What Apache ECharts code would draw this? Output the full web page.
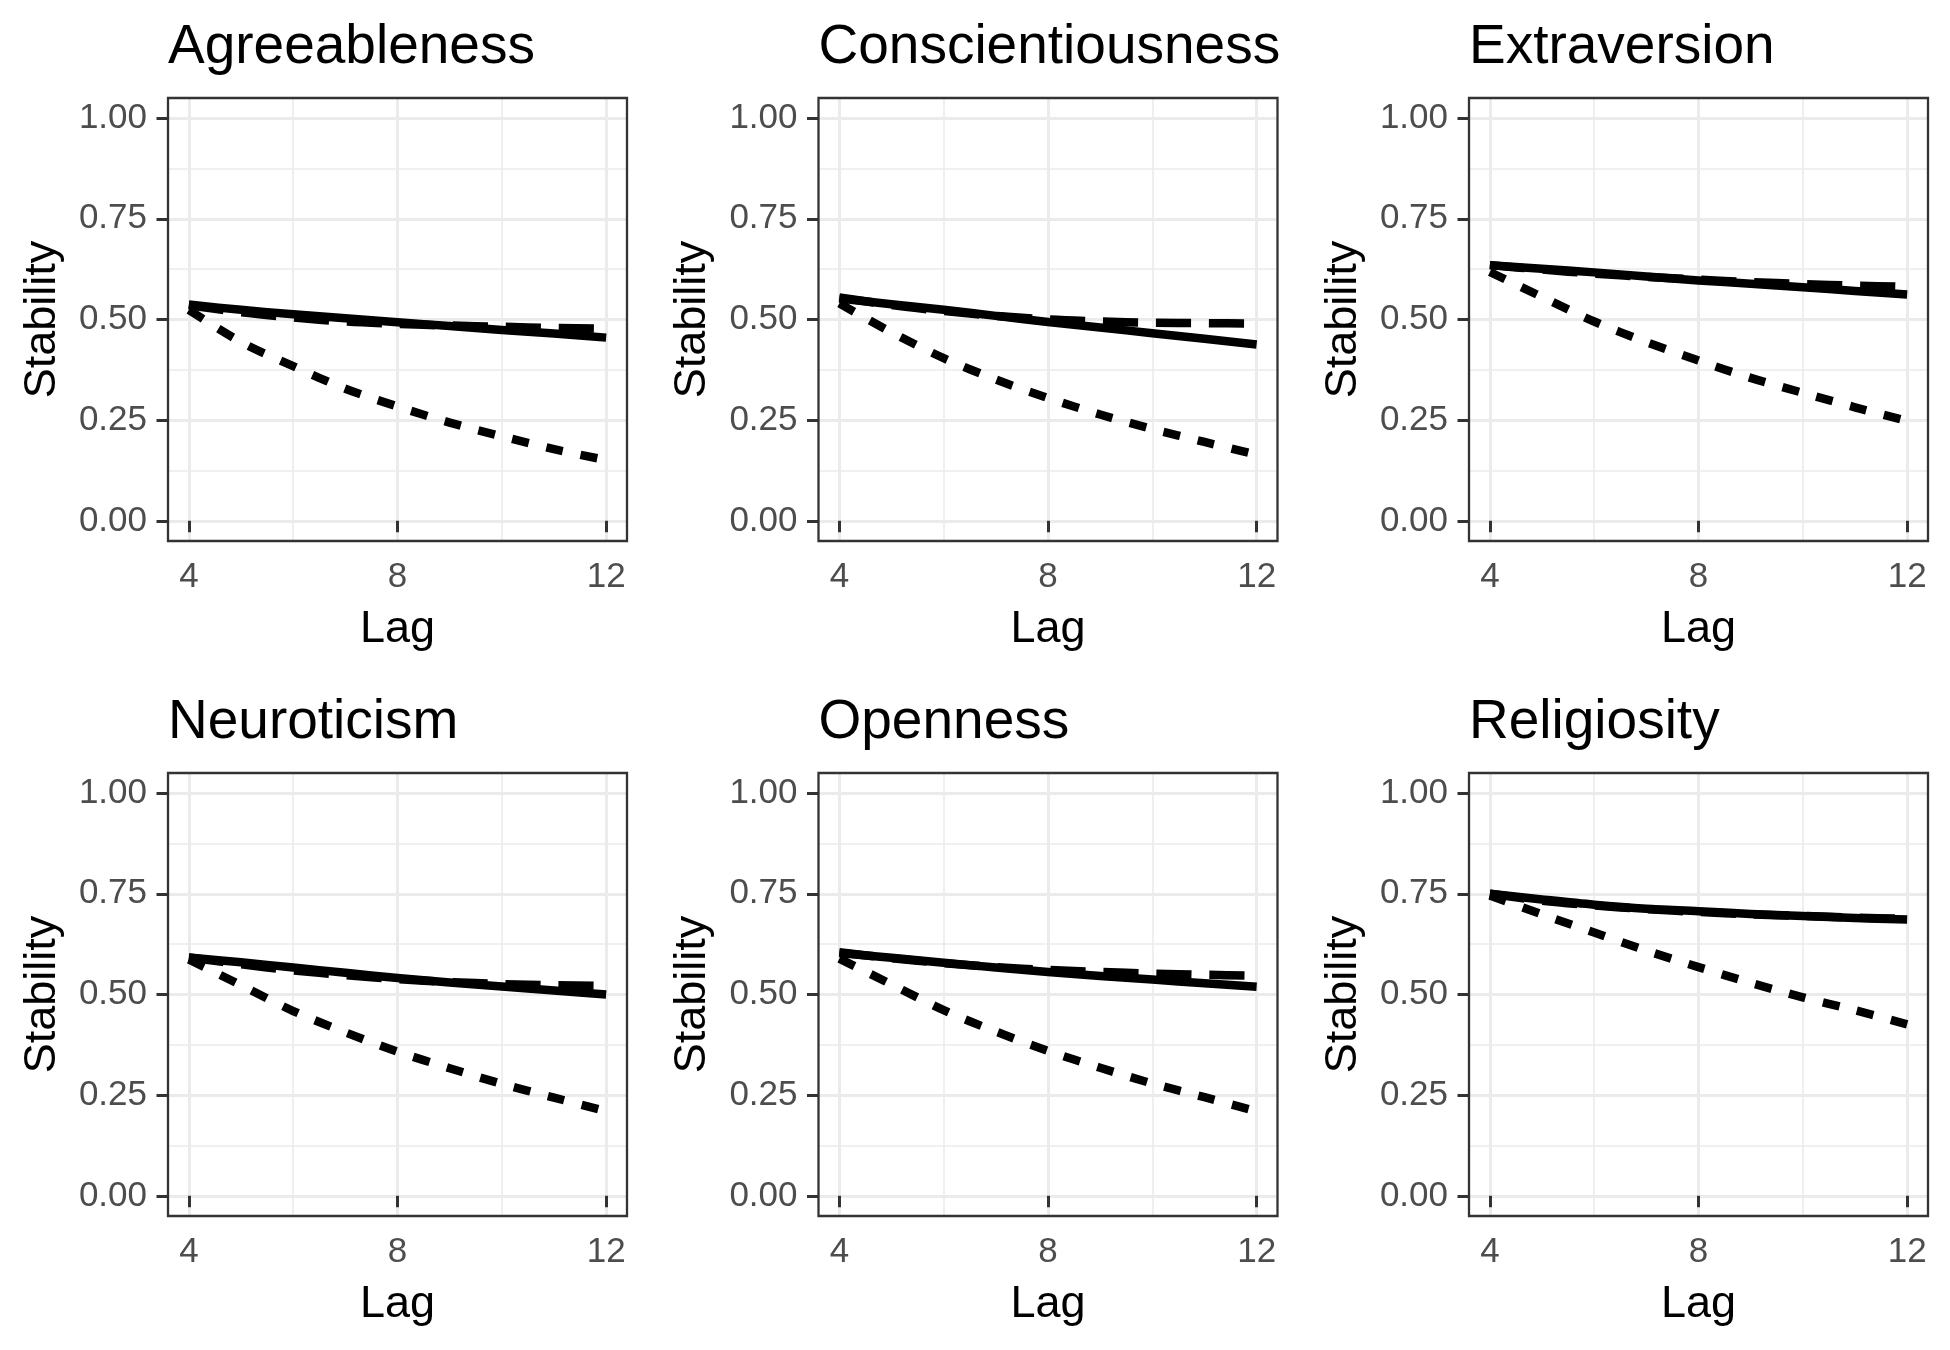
<!DOCTYPE html>
<html>
<head>
<meta charset="utf-8">
<script src="https://cdn.jsdelivr.net/npm/echarts@6/dist/echarts.min.js"></script>
<style>
html, body { margin: 0; padding: 0; background: #ffffff; }
#chart { width: 1950px; height: 1350px; }
</style>
</head>
<body>
<div id="chart"></div>
<script>
// ---------------- data ----------------
const lags = [4, 5, 6, 7, 8, 9, 10, 11, 12];
const traits = ['Agreeableness', 'Conscientiousness', 'Extraversion', 'Neuroticism', 'Openness', 'Religiosity'];

const agreeablenessSolid     = [0.537, 0.524, 0.513, 0.503, 0.493, 0.484, 0.474, 0.465, 0.455];
const agreeablenessLongDash  = [0.535, 0.518, 0.505, 0.495, 0.489, 0.485, 0.482, 0.479, 0.477];
const agreeablenessShortDash = [0.524, 0.444, 0.384, 0.328, 0.284, 0.244, 0.210, 0.178, 0.151];

const conscientiousnessSolid     = [0.552, 0.538, 0.524, 0.509, 0.494, 0.480, 0.466, 0.452, 0.438];
const conscientiousnessLongDash  = [0.555, 0.536, 0.521, 0.509, 0.500, 0.495, 0.492, 0.491, 0.490];
const conscientiousnessShortDash = [0.540, 0.468, 0.404, 0.351, 0.305, 0.264, 0.228, 0.196, 0.164];

const extraversionSolid     = [0.635, 0.626, 0.617, 0.607, 0.597, 0.589, 0.580, 0.571, 0.562];
const extraversionLongDash  = [0.635, 0.624, 0.614, 0.606, 0.599, 0.593, 0.588, 0.584, 0.581];
const extraversionShortDash = [0.618, 0.556, 0.495, 0.444, 0.398, 0.355, 0.318, 0.282, 0.248];

const neuroticismSolid     = [0.592, 0.580, 0.567, 0.554, 0.541, 0.530, 0.520, 0.510, 0.500];
const neuroticismLongDash  = [0.592, 0.575, 0.560, 0.548, 0.538, 0.531, 0.526, 0.523, 0.521];
const neuroticismShortDash = [0.587, 0.523, 0.459, 0.406, 0.358, 0.317, 0.278, 0.244, 0.210];

const opennessSolid     = [0.603, 0.591, 0.579, 0.567, 0.556, 0.546, 0.537, 0.528, 0.519];
const opennessLongDash  = [0.605, 0.590, 0.578, 0.568, 0.561, 0.556, 0.552, 0.549, 0.547];
const opennessShortDash = [0.589, 0.525, 0.461, 0.408, 0.360, 0.318, 0.279, 0.245, 0.210];

const religiositySolid     = [0.750, 0.736, 0.723, 0.713, 0.707, 0.700, 0.695, 0.690, 0.686];
const religiosityLongDash  = [0.750, 0.733, 0.721, 0.712, 0.705, 0.699, 0.695, 0.691, 0.688];
const religiosityShortDash = [0.746, 0.699, 0.654, 0.609, 0.568, 0.529, 0.493, 0.461, 0.426];

const xMajorTicks = [4, 8, 12];
const xMinorTicks = [6, 10];
const yMajorTicks = [0, 0.25, 0.5, 0.75, 1];
const yMinorTicks = [0.125, 0.375, 0.625, 0.875];

const panelValues = [
  [agreeablenessSolid, agreeablenessLongDash, agreeablenessShortDash],
  [conscientiousnessSolid, conscientiousnessLongDash, conscientiousnessShortDash],
  [extraversionSolid, extraversionLongDash, extraversionShortDash],
  [neuroticismSolid, neuroticismLongDash, neuroticismShortDash],
  [opennessSolid, opennessLongDash, opennessShortDash],
  [religiositySolid, religiosityLongDash, religiosityShortDash]
];

// ---------------- layout / style ----------------
const FONT = '"Liberation Sans", Arial, Helvetica, sans-serif';
const colLeft = [168, 818.5, 1469];
const rowTop = [98, 773];
const gridW = 459;
const gridH = 443;
const lineTypes = ['solid', [35, 18], [17, 18]];

const grids = [], xAxes = [], yAxes = [], series = [], titles = [], graphics = [];

traits.forEach(function (name, i) {
  const c = i % 3, r = Math.floor(i / 3);
  grids.push({ left: colLeft[c], top: rowTop[r], width: gridW, height: gridH, show: false, containLabel: false });

  // major x axis (data axis)
  xAxes.push({
    type: 'value', gridIndex: i, min: 3.6, max: 12.4, position: 'bottom',
    name: 'Lag', nameLocation: 'middle', nameGap: 66,
    nameTextStyle: { fontFamily: FONT, fontSize: 45, color: '#000000' },
    axisLine: { show: false },
    axisTick: { show: true, length: 11.5, customValues: xMajorTicks, lineStyle: { color: '#333333', width: 3 } },
    axisLabel: { show: true, customValues: xMajorTicks, fontFamily: FONT, fontSize: 35, color: '#4D4D4D', margin: 19 },
    splitLine: { show: true, lineStyle: { color: '#EBEBEB', width: 3 } }
  });
  // minor x grid
  xAxes.push({
    type: 'value', gridIndex: i, min: 3.6, max: 12.4, position: 'top',
    axisLine: { show: false },
    axisTick: { show: false, customValues: xMinorTicks },
    axisLabel: { show: false, customValues: xMinorTicks },
    splitLine: { show: true, lineStyle: { color: '#EBEBEB', width: 1.6 } }
  });
  // major y axis
  yAxes.push({
    type: 'value', gridIndex: i, min: -0.05, max: 1.05, position: 'left',
    name: 'Stability', nameLocation: 'middle', nameGap: 103,
    nameTextStyle: { fontFamily: FONT, fontSize: 45, color: '#000000' },
    axisLine: { show: false },
    axisTick: { show: true, length: 11.5, customValues: yMajorTicks, lineStyle: { color: '#333333', width: 3 } },
    axisLabel: { show: true, customValues: yMajorTicks, fontFamily: FONT, fontSize: 35, color: '#4D4D4D', margin: 21,
      formatter: function (v) { return Number(v).toFixed(2); } },
    splitLine: { show: true, lineStyle: { color: '#EBEBEB', width: 3 } }
  });
  // minor y grid
  yAxes.push({
    type: 'value', gridIndex: i, min: -0.05, max: 1.05, position: 'right',
    axisLine: { show: false },
    axisTick: { show: false, customValues: yMinorTicks },
    axisLabel: { show: false, customValues: yMinorTicks },
    splitLine: { show: true, lineStyle: { color: '#EBEBEB', width: 1.6 } }
  });

  panelValues[i].forEach(function (vals, k) {
    series.push({
      type: 'line', xAxisIndex: 2 * i, yAxisIndex: 2 * i,
      data: lags.map(function (x, j) { return [x, vals[j]]; }),
      symbol: 'none', showSymbol: false, smooth: 0.3, silent: true,
      lineStyle: { color: '#000000', width: 8.5, type: lineTypes[k], cap: 'butt', join: 'round' },
      z: 3 + k
    });
  });

  titles.push({
    text: name, left: colLeft[c], top: rowTop[r] - 78, padding: 0,
    textStyle: { fontFamily: FONT, fontSize: 55, fontWeight: 'normal', color: '#000000' }
  });

  graphics.push({
    type: 'rect', z: 100, silent: true,
    shape: { x: colLeft[c], y: rowTop[r], width: gridW, height: gridH },
    style: { fill: 'none', stroke: '#333333', lineWidth: 2.3 }
  });
});

const chart = echarts.init(document.getElementById('chart'), null, { renderer: 'canvas' });
chart.setOption({
  animation: false,
  backgroundColor: '#ffffff',
  title: titles,
  grid: grids,
  xAxis: xAxes,
  yAxis: yAxes,
  series: series,
  graphic: graphics
});
</script>
</body>
</html>
